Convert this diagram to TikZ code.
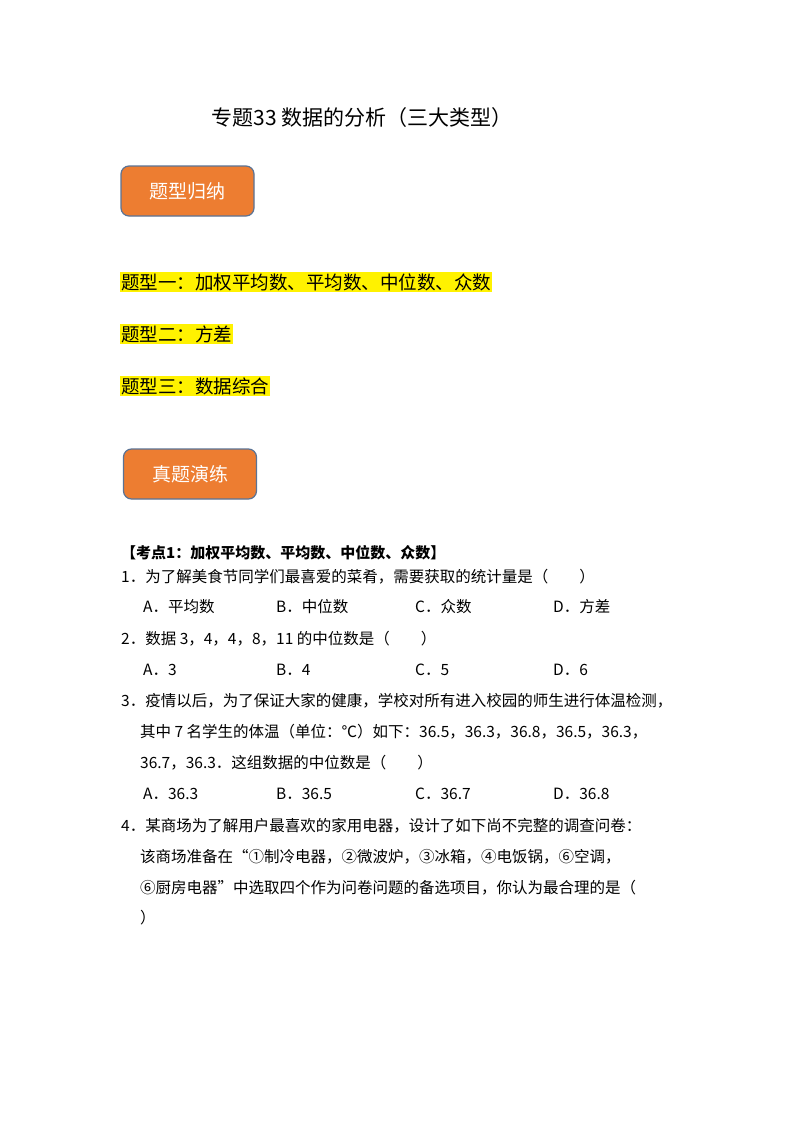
\documentclass[tikz,border=0pt]{standalone}
\usepackage{fontspec}
\setmainfont{Liberation Serif}
\newfontfamily\cjk{Noto Sans CJK SC}
\definecolor{org}{HTML}{ED7D31}
\definecolor{bord}{HTML}{5A7395}
\begin{document}
\begin{tikzpicture}[x=1pt,y=-1pt,
 t/.style={anchor=west,inner sep=0pt,font=\cjk\fontsize{15.5}{15.5}\selectfont},
 hl/.style={anchor=west,inner sep=1pt,fill=yellow,font=\cjk\fontsize{18.5}{18.5}\selectfont},
 box/.style={draw=bord,line width=1.2pt,fill=org,rounded corners=8pt,minimum width=133pt,minimum height=50pt,text=white,font=\cjk\fontsize{19}{19}\selectfont}]
\useasboundingbox[fill=white] (0,0) rectangle (800,1132);
\node[anchor=center,font=\cjk\fontsize{21}{21}\selectfont] (title) at (362,118) {专题33 数据的分析（三大类型）};
\node[box] (b1) at (187.5,191) {题型归纳};
\node[hl] (h1) at (120,282) {题型一：加权平均数、平均数、中位数、众数};
\node[hl] (h2) at (120,334) {题型二：方差};
\node[hl] (h3) at (120,386) {题型三：数据综合};
\node[box] (b2) at (190,474) {真题演练};
\node[t,font=\cjk\bfseries\fontsize{15}{15}\selectfont] (k1) at (121,553) {【考点1：加权平均数、平均数、中位数、众数】};
\node[t] (q1) at (121,577) {1．为了解美食节同学们最喜爱的菜肴，需要获取的统计量是（　　）};
\node[t] (q1a) at (143,607) {A．平均数};
\node[t] (q1b) at (276,607) {B．中位数};
\node[t] (q1c) at (415,607) {C．众数};
\node[t] (q1d) at (553,607) {D．方差};
\node[t] (q2) at (121,639) {2．数据 3，4，4，8，11 的中位数是（　　）};
\node[t] (q2a) at (143,670) {A．3};
\node[t] (q2b) at (276,670) {B．4};
\node[t] (q2c) at (415,670) {C．5};
\node[t] (q2d) at (553,670) {D．6};
\node[t] (q3) at (121,701) {3．疫情以后，为了保证大家的健康，学校对所有进入校园的师生进行体温检测，};
\node[t] (q3l2) at (140,732) {其中 7 名学生的体温（单位：℃）如下：36.5，36.3，36.8，36.5，36.3，};
\node[t] (q3l3) at (140,763) {36.7，36.3．这组数据的中位数是（　　）};
\node[t] (q3a) at (143,794) {A．36.3};
\node[t] (q3b) at (276,794) {B．36.5};
\node[t] (q3c) at (415,794) {C．36.7};
\node[t] (q3d) at (553,794) {D．36.8};
\node[t] (q4) at (121,826) {4．某商场为了解用户最喜欢的家用电器，设计了如下尚不完整的调查问卷：};
\node[t] (q4l2) at (140,857) {该商场准备在“①制冷电器，②微波炉，③冰箱，④电饭锅，⑥空调，};
\node[t] (q4l3) at (140,888) {⑥厨房电器”中选取四个作为问卷问题的备选项目，你认为最合理的是（};
\node[t] (q4l4) at (140,918) {）};
\end{tikzpicture}
\end{document}
